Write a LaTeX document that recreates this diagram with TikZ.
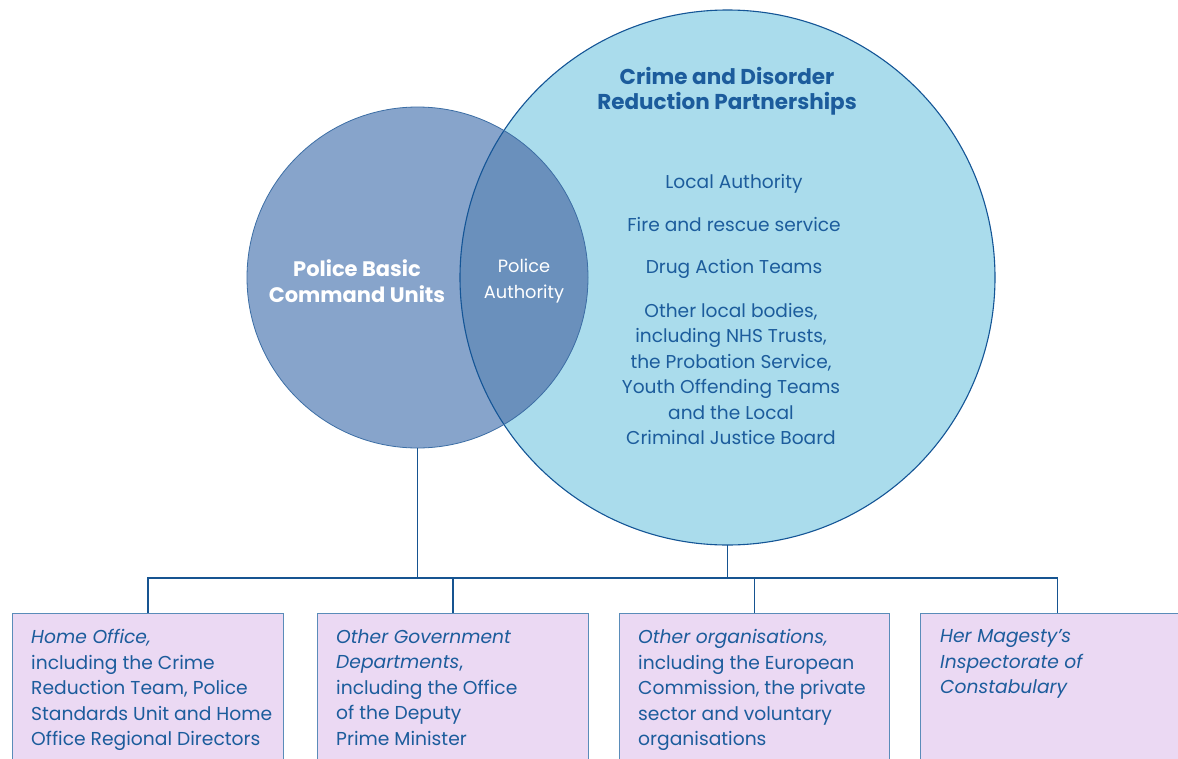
\documentclass[tikz,border=0pt]{standalone}
\usepackage{fontspec}
\setmainfont{Poppins}
\definecolor{leftfill}{RGB}{135,164,203}
\definecolor{interfill}{RGB}{106,144,188}
\definecolor{rightfill}{RGB}{170,220,236}
\definecolor{rightline}{RGB}{20,85,150}
\definecolor{leftline}{RGB}{60,110,165}
\definecolor{boxfill}{RGB}{235,217,243}
\definecolor{boxline}{RGB}{90,140,185}
\definecolor{wirecol}{RGB}{22,84,145}
\definecolor{inktext}{RGB}{28,92,156}
\begin{document}
\begin{tikzpicture}[x=1pt,y=-1pt,
  venn/.style={circle, inner sep=0pt, outer sep=0pt},
  orgbox/.style={rectangle, fill=boxfill, draw=boxline, line width=1pt, inner sep=0pt, anchor=north west, minimum height=180pt},
  boxtext/.style={anchor=north west, inner sep=0pt, align=left, text=inktext, font=\fontsize{18.7}{25.4}\selectfont},
  listtext/.style={inner sep=0pt, align=center, text=inktext, font=\fontsize{18.6}{25.5}\selectfont},
  wire/.style={draw=wirecol, line width=1.5pt},
  boxwire/.style={draw=wirecol, line width=1.1pt}]
\useasboundingbox (0,0) rectangle (1178,758);
\clip (0,0) rectangle (1178,758);
\fill[white] (0,0) rectangle (1178,758);

% the two overlapping circles
\node[venn, fill=rightfill, minimum size=535pt] (cdrp) at (727.5,277.5) {};
\node[venn, fill=leftfill, minimum size=341pt] (pbcu) at (417.5,277.5) {};
\begin{scope}
  \clip (pbcu.center) circle (170.5pt);
  \fill[interfill] (cdrp.center) circle (267.5pt);
\end{scope}
\draw[rightline, line width=1.1pt] (cdrp.center) circle (267.5pt);
\draw[leftline, line width=0.8pt] (pbcu.center) circle (170.5pt);

% circle labels
\node[inner sep=0pt, align=center, text=white, font=\bfseries\fontsize{21}{26}\selectfont] (pbcuname) at (357,281) {Police Basic\\Command Units};
\node[inner sep=0pt, align=center, text=white, font=\fontsize{17.8}{25.5}\selectfont] (pa) at (524,281) {Police\\Authority};
\node[inner sep=0pt, align=center, text=inktext, font=\bfseries\fontsize{21.5}{25.5}\selectfont] (cdrpname) at (727,91) {Crime and Disorder\\Reduction Partnerships};
\node[listtext] (la) at (734,184) {Local Authority};
\node[listtext] (fire) at (734,225) {Fire and rescue service};
\node[listtext] (dat) at (734,269) {Drug Action Teams};
\node[listtext] (olb) at (731,374) {Other local bodies,\\including NHS Trusts,\\the Probation Service,\\Youth Offending Teams\\and the Local\\Criminal Justice Board};

% boxes along the bottom
\node[orgbox, minimum width=271pt] (b1) at (12,613) {};
\node[orgbox, minimum width=271pt] (b2) at (317,613) {};
\node[orgbox, minimum width=270pt] (b3) at (619,613) {};
\node[orgbox, minimum width=274pt] (b4) at (920,613) {};

\node[boxtext] (t1) at (31,629.5) {\textit{Home Office,}\\including the Crime\\Reduction Team, Police\\Standards Unit and Home\\Office Regional Directors};
\node[boxtext] (t2) at (336,629.5) {\textit{Other Government}\\\textit{Departments}, \\including the Office\\of the Deputy\\Prime Minister};
\node[boxtext] (t3) at (638,629.5) {\textit{Other organisations,}\\including the European\\Commission, the private\\sector and voluntary\\organisations};
\node[boxtext] (t4) at (940,629.5) {\textit{Her Magesty’s}\\\textit{Inspectorate of}\\\textit{Constabulary}};

% connectors
\coordinate (bus) at (0,578);
\draw[wire] (pbcu.south) -- (pbcu.south |- bus);
\draw[wire] (cdrp.south) -- (cdrp.south |- bus);
\draw[boxwire] (b1.north) |- (b4.north |- bus) -- (b4.north);
\draw[boxwire] (b2.north) -- (b2.north |- bus);
\draw[boxwire] (b3.north) -- (b3.north |- bus);
\end{tikzpicture}
\end{document}
